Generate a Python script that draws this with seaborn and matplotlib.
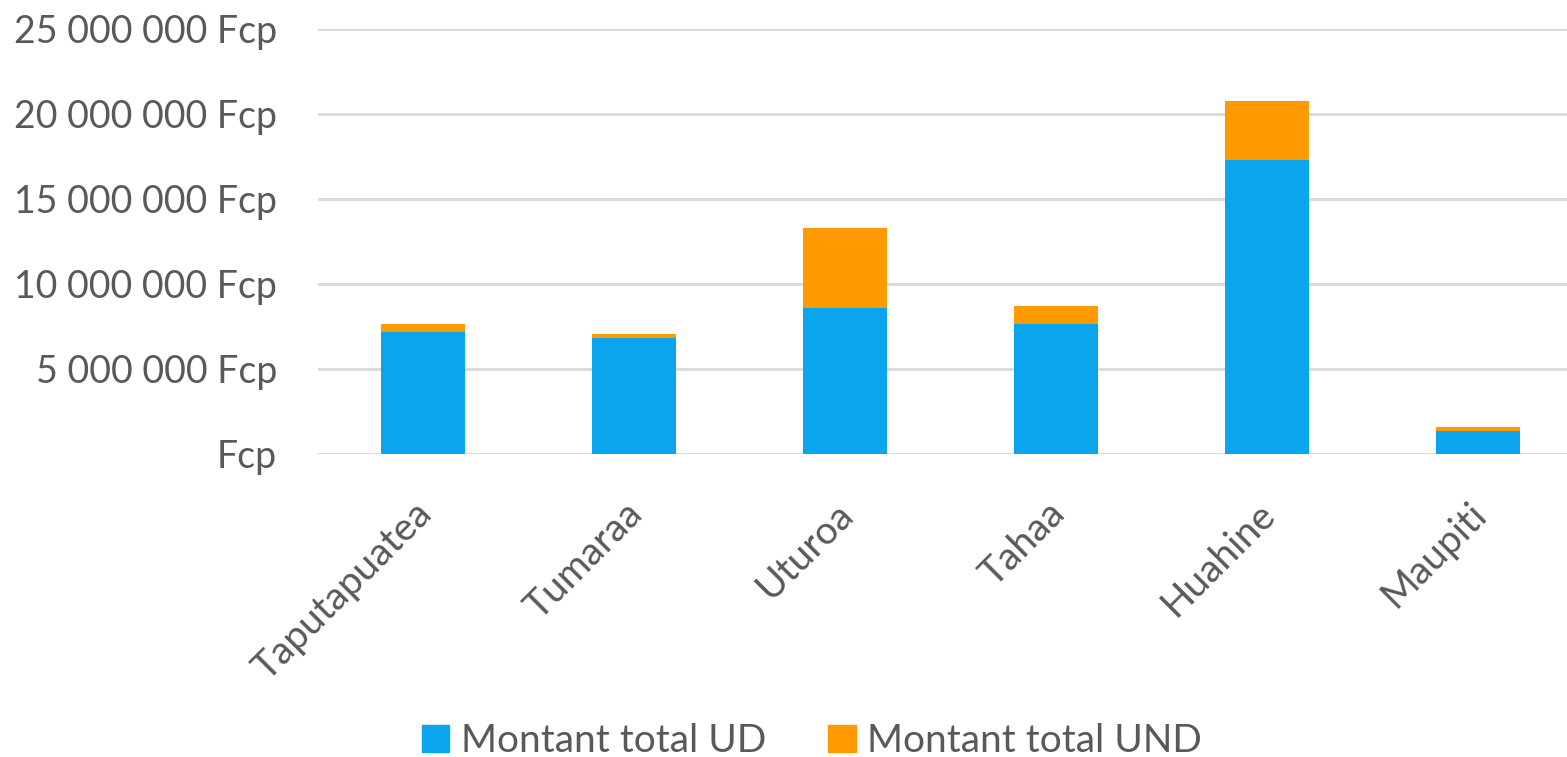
import seaborn as sns
import matplotlib.pyplot as plt
import matplotlib.transforms as mtransforms
import pandas as pd
from matplotlib.patches import Patch
from matplotlib.ticker import FuncFormatter

# ---- Data

communes = ["Taputapuatea", "Tumaraa", "Uturoa", "Tahaa", "Huahine", "Maupiti"]
montant_ud = [7180000, 6820000, 8550000, 7610000, 17280000, 1350000]
montant_und = [450000, 220000, 4710000, 1080000, 3470000, 240000]

BLUE = "#0AA5EC"
ORANGE = "#FF9A00"
GREY = "#595959"

df = pd.DataFrame({"commune": communes, "ud": montant_ud, "und": montant_und})
df["total"] = df["ud"] + df["und"]

sns.set_theme(style="white")
plt.rcParams["font.family"] = ["Lato", "DejaVu Sans"]

fig = plt.figure(figsize=(15.67, 7.57), dpi=100)
ax = fig.add_axes([317.5 / 1567, 1 - 453.7 / 757, (1567 - 317.5) / 1567, (453.7 - 28.7) / 757])

# stacked: total in orange behind, UD in blue on top
sns.barplot(data=df, x="commune", y="total", color=ORANGE, width=0.4, saturation=1, linewidth=0, ax=ax)
sns.barplot(data=df, x="commune", y="ud", color=BLUE, width=0.4, saturation=1, linewidth=0, ax=ax)

ax.set_ylim(0, 25000000)
ax.set_xlim(-0.5, -0.5 + (1567 - 317.5) / 211)
ax.set_yticks(range(0, 25000001, 5000000))


def fcp(v, pos):
    if v == 0:
        return "Fcp"
    return f"{int(v):,} Fcp".replace(",", " ")


ax.yaxis.set_major_formatter(FuncFormatter(fcp))
ax.grid(axis="y", color="#D9D9D9", linewidth=2)
ax.set_axisbelow(True)
for s in ax.spines.values():
    s.set_visible(False)

ax.set_xlabel("")
ax.set_ylabel("")
ax.tick_params(axis="y", length=0, pad=29, labelsize=27, labelcolor=GREY)
ax.tick_params(axis="x", length=0, pad=30, labelsize=28, labelcolor=GREY)
shift = mtransforms.ScaledTranslation(-10 / 100, 0, fig.dpi_scale_trans)
for lbl in ax.get_xticklabels():
    lbl.set_rotation(45)
    lbl.set_ha("right")
    lbl.set_rotation_mode("anchor")
    lbl.set_transform(lbl.get_transform() + shift)

handles = [Patch(color=BLUE, label="Montant total UD"), Patch(color=ORANGE, label="Montant total UND")]
fig.legend(handles=handles, loc="center", bbox_to_anchor=(812 / 1567, 1 - 741 / 757), ncol=2,
           frameon=False, fontsize=28, labelcolor=GREY, handlelength=0.7, handleheight=0.7,
           handletextpad=0.3, columnspacing=1.6)

fig.savefig("out.png", dpi=100)
